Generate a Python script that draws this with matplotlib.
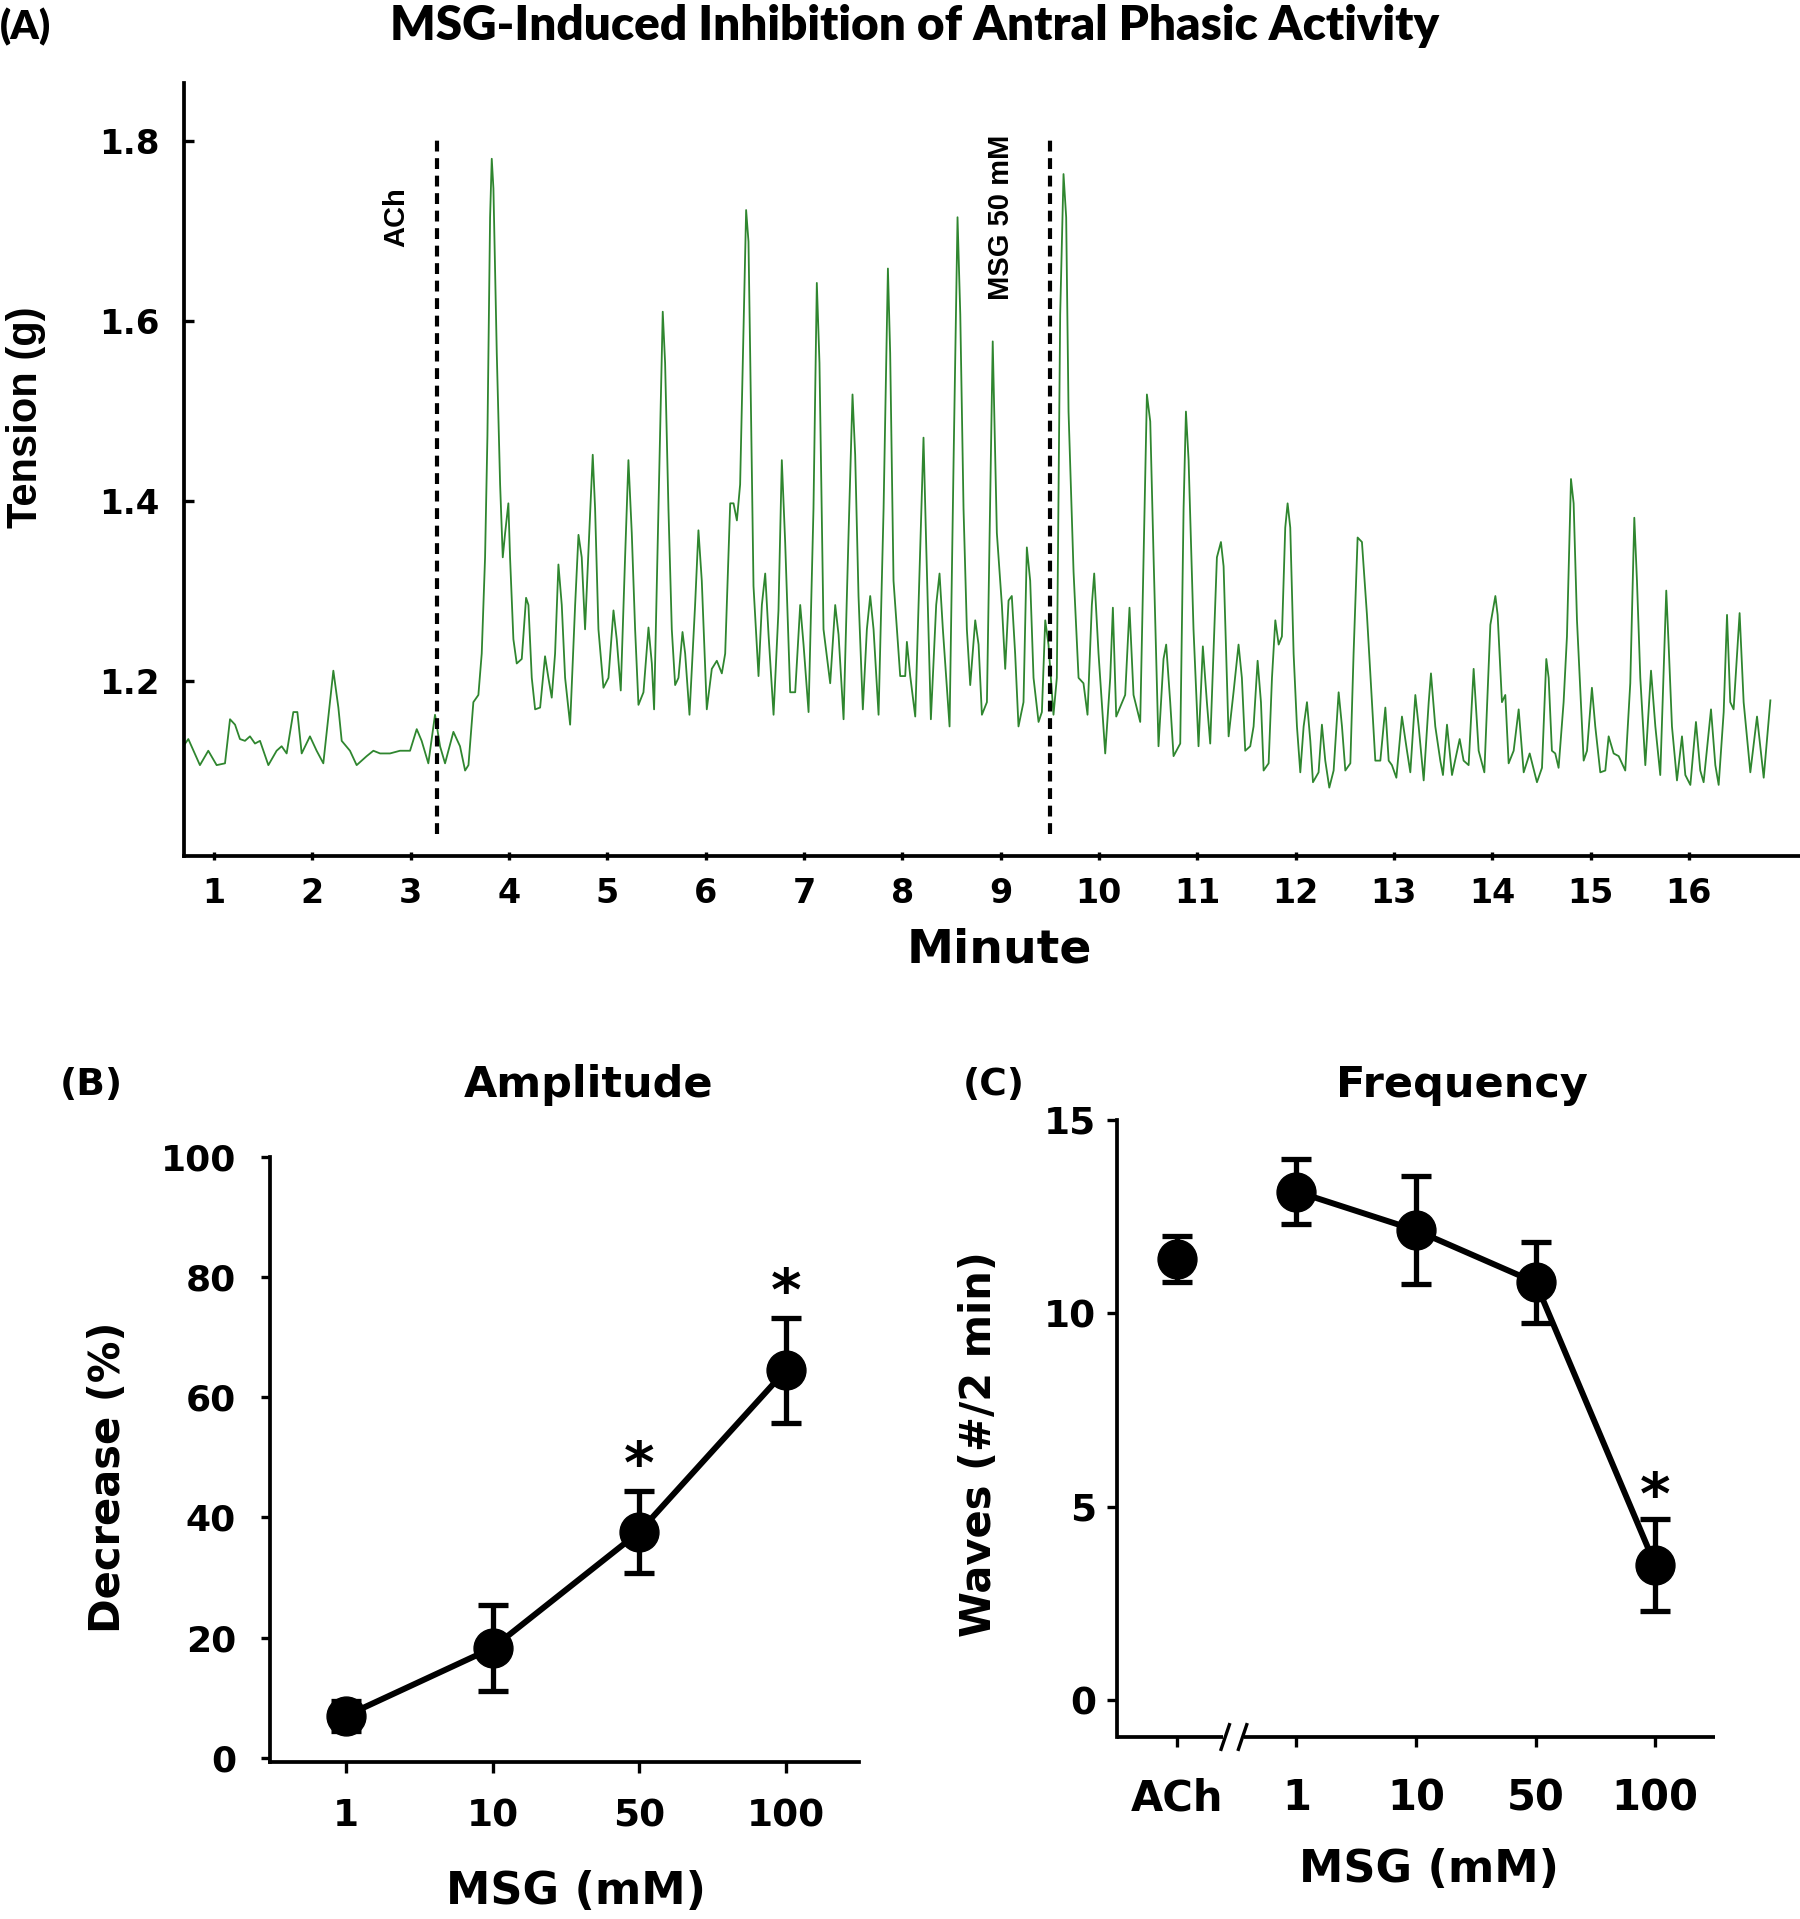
import matplotlib
matplotlib.use("Agg")
import matplotlib.pyplot as plt
import matplotlib.transforms as mtransforms
from matplotlib.lines import Line2D

plt.rcParams['font.family'] = ['DejaVu Sans']
plt.rcParams['font.weight'] = 'bold'

# ---------------- Panel A : tension trace (minute, g) ----------------
trace_minute = [
    0.688, 0.739, 0.857, 0.942, 1.027, 1.112, 1.163, 1.214, 1.264, 1.315, 1.366, 1.417, 1.468,
    1.553, 1.637, 1.688, 1.739, 1.807, 1.848, 1.892, 1.976, 2.044, 2.112, 2.214, 2.265, 2.299,
    2.383, 2.451, 2.553, 2.621, 2.689, 2.790, 2.892, 2.994, 3.062, 3.112, 3.180, 3.248, 3.299,
    3.350, 3.435, 3.502,
    3.554, 3.588, 3.638, 3.689, 3.723, 3.757, 3.781, 3.808, 3.825, 3.842, 3.876, 3.910, 3.937,
    3.961, 3.994, 4.011, 4.045, 4.079, 4.130, 4.174, 4.198, 4.232, 4.266, 4.317, 4.367, 4.401,
    4.435, 4.469, 4.503, 4.537, 4.571, 4.622, 4.673, 4.707, 4.740, 4.774, 4.808, 4.852, 4.876,
    4.910, 4.961, 5.012, 5.063, 5.096, 5.137, 5.181, 5.215, 5.249, 5.283, 5.317, 5.368, 5.419,
    5.453, 5.476, 5.520, 5.564, 5.588, 5.622, 5.656, 5.690, 5.724, 5.765, 5.792, 5.836, 5.893,
    5.927, 5.961, 6.012, 6.063, 6.114, 6.165, 6.199,
    6.250, 6.284, 6.318, 6.351, 6.385, 6.412, 6.436, 6.453, 6.487, 6.538, 6.572, 6.606, 6.640,
    6.691, 6.741, 6.775, 6.809, 6.860, 6.911, 6.962, 6.996, 7.047, 7.097, 7.131, 7.158, 7.199,
    7.267, 7.318, 7.352, 7.403, 7.454, 7.494, 7.521, 7.555, 7.599, 7.640, 7.674, 7.708, 7.759,
    7.810, 7.854, 7.877, 7.911, 7.979, 8.030, 8.047, 8.081, 8.132, 8.183, 8.216, 8.244, 8.291,
    8.345, 8.379, 8.413, 8.481, 8.522, 8.562, 8.590, 8.623, 8.657, 8.691, 8.742, 8.776, 8.810,
    8.861, 8.920,
    8.962, 9.013, 9.047, 9.081, 9.114, 9.148, 9.182, 9.233, 9.267, 9.301, 9.335, 9.386, 9.420,
    9.454, 9.487, 9.538, 9.572, 9.606, 9.640, 9.667, 9.691, 9.742, 9.793, 9.843, 9.884, 9.928,
    9.952, 9.996, 10.064, 10.115, 10.142, 10.176, 10.267, 10.311, 10.352, 10.420, 10.454,
    10.488, 10.522, 10.556, 10.606, 10.657, 10.684, 10.725, 10.759, 10.827, 10.861, 10.885,
    10.912, 10.962, 11.013, 11.057, 11.098, 11.132, 11.200, 11.241, 11.268, 11.319, 11.369,
    11.420, 11.454, 11.488, 11.539, 11.573, 11.614, 11.648, 11.675,
    11.726, 11.760, 11.794, 11.828, 11.861, 11.895, 11.919, 11.946, 11.980, 12.014, 12.048,
    12.082, 12.116, 12.150, 12.177, 12.234, 12.268, 12.302, 12.343, 12.387, 12.438, 12.472,
    12.506, 12.557, 12.590, 12.631, 12.675, 12.726, 12.777, 12.811, 12.862, 12.913, 12.947,
    12.980, 13.025, 13.082, 13.133, 13.167, 13.218, 13.252, 13.303, 13.354, 13.377, 13.421,
    13.472, 13.499, 13.540, 13.591, 13.669, 13.709, 13.760, 13.811, 13.862, 13.920, 13.981,
    14.032, 14.055, 14.099, 14.133, 14.167, 14.218, 14.269, 14.320, 14.381,
    14.455, 14.506, 14.550, 14.574, 14.607, 14.641, 14.675, 14.726, 14.760, 14.801, 14.828,
    14.862, 14.930, 14.964, 15.014, 15.048, 15.099, 15.150, 15.184, 15.235, 15.286, 15.353,
    15.404, 15.445, 15.472, 15.506, 15.557, 15.615, 15.659, 15.709, 15.770, 15.794, 15.828,
    15.879, 15.930, 15.964, 16.015, 16.072, 16.116, 16.150, 16.225, 16.269, 16.303, 16.354,
    16.388, 16.421, 16.455, 16.516, 16.557, 16.625, 16.693, 16.761, 16.829,
]
trace_tension = [
    1.127, 1.135, 1.106, 1.122, 1.106, 1.108, 1.157, 1.151, 1.135, 1.133, 1.138, 1.130, 1.133,
    1.106, 1.122, 1.127, 1.119, 1.165, 1.165, 1.119, 1.138, 1.122, 1.108, 1.211, 1.170, 1.133,
    1.122, 1.106, 1.116, 1.122, 1.119, 1.119, 1.122, 1.122, 1.146, 1.133, 1.108, 1.162, 1.127,
    1.108, 1.143, 1.127,
    1.100, 1.106, 1.176, 1.184, 1.230, 1.337, 1.472, 1.715, 1.780, 1.747, 1.564, 1.418, 1.337,
    1.364, 1.397, 1.337, 1.246, 1.219, 1.224, 1.292, 1.284, 1.203, 1.168, 1.170, 1.227, 1.203,
    1.181, 1.230, 1.329, 1.284, 1.203, 1.151, 1.284, 1.362, 1.337, 1.257, 1.343, 1.451, 1.391,
    1.257, 1.192, 1.203, 1.278, 1.246, 1.189, 1.337, 1.445, 1.364, 1.257, 1.173, 1.187, 1.259,
    1.219, 1.168, 1.391, 1.610, 1.553, 1.391, 1.257, 1.195, 1.203, 1.254, 1.230, 1.162, 1.284,
    1.367, 1.311, 1.168, 1.213, 1.222, 1.208, 1.230,
    1.397, 1.397, 1.378, 1.418, 1.591, 1.723, 1.688, 1.564, 1.305, 1.205, 1.284, 1.319, 1.251,
    1.162, 1.278, 1.445, 1.354, 1.187, 1.187, 1.284, 1.240, 1.165, 1.391, 1.642, 1.553, 1.257,
    1.197, 1.284, 1.251, 1.157, 1.364, 1.518, 1.451, 1.294, 1.168, 1.257, 1.294, 1.257, 1.162,
    1.391, 1.658, 1.564, 1.311, 1.205, 1.205, 1.243, 1.205, 1.160, 1.348, 1.470, 1.348, 1.157,
    1.284, 1.319, 1.257, 1.149, 1.445, 1.715, 1.607, 1.391, 1.257, 1.195, 1.267, 1.240, 1.162,
    1.176, 1.577,
    1.364, 1.284, 1.213, 1.289, 1.294, 1.230, 1.149, 1.176, 1.348, 1.311, 1.203, 1.154, 1.165,
    1.267, 1.240, 1.162, 1.203, 1.607, 1.763, 1.715, 1.499, 1.321, 1.203, 1.197, 1.162, 1.284,
    1.319, 1.230, 1.119, 1.203, 1.281, 1.160, 1.184, 1.281, 1.184, 1.154, 1.337,
    1.518, 1.488, 1.337, 1.127, 1.224, 1.240, 1.176, 1.116, 1.130, 1.391, 1.499,
    1.445, 1.257, 1.127, 1.238, 1.176, 1.130, 1.337, 1.354, 1.327, 1.138, 1.187,
    1.240, 1.203, 1.122, 1.127, 1.149, 1.222, 1.176, 1.100,
    1.108, 1.203, 1.267, 1.240, 1.249, 1.370, 1.397, 1.370, 1.230, 1.149, 1.098,
    1.149, 1.176, 1.133, 1.087, 1.098, 1.151, 1.111, 1.081, 1.100, 1.187, 1.149,
    1.100, 1.108, 1.230, 1.359, 1.354, 1.273, 1.176, 1.111, 1.111, 1.170, 1.111,
    1.106, 1.092, 1.160, 1.122, 1.098, 1.184, 1.149, 1.089, 1.176, 1.208, 1.149,
    1.111, 1.095, 1.151, 1.095, 1.135, 1.111, 1.106, 1.213, 1.122, 1.098, 1.262,
    1.294, 1.273, 1.176, 1.184, 1.108, 1.122, 1.168, 1.098, 1.119,
    1.087, 1.103, 1.224, 1.203, 1.122, 1.119, 1.103, 1.176, 1.249, 1.424, 1.397,
    1.267, 1.111, 1.122, 1.192, 1.149, 1.098, 1.100, 1.138, 1.119, 1.116, 1.100,
    1.197, 1.381, 1.311, 1.203, 1.106, 1.211, 1.149, 1.095, 1.300, 1.240, 1.149,
    1.089, 1.138, 1.095, 1.084, 1.154, 1.100, 1.087, 1.168, 1.106, 1.084, 1.165,
    1.273, 1.176, 1.168, 1.275, 1.176, 1.098, 1.160, 1.092, 1.178,
]
a_xticks = list(range(1, 17))
a_yticks = [1.2, 1.4, 1.6, 1.8]
a_yticklabels = ['1.2', '1.4', '1.6', '1.8']
ach_time = 3.265
msg_time = 9.504
event_labels = ['ACh', 'MSG 50 mM']
event_label_right = [2.994, 9.149]

# ---------------- Panel B : amplitude ----------------
b_cats = ['1', '10', '50', '100']
b_mean = [7.0, 18.3, 37.6, 64.5]
b_err = [2.5, 7.2, 6.8, 8.7]
b_star = [False, False, True, True]
b_yticks = [0, 20, 40, 60, 80, 100]

# ---------------- Panel C : frequency ----------------
c_cats = ['ACh', '1', '10', '50', '100']
c_mean = [11.4, 13.15, 12.15, 10.8, 3.5]
c_err = [0.6, 0.85, 1.4, 1.05, 1.18]
c_star = [False, False, False, False, True]
c_yticks = [0, 5, 10, 15]

W, H = 1800, 1919
fig = plt.figure(figsize=(W / 100, H / 100), dpi=100)

def fx(px):
    return px / W

def fy(py):
    return 1 - py / H

LW_DATA = 4.3
MS = 28
EB = dict(elinewidth=3.8, capsize=10.5, capthick=3.8)

# ---------- Panel A ----------
axA = fig.add_axes([fx(183.6), fy(856), fx(1799) - fx(183.6), fy(83.2) - fy(856)])
axA.plot(trace_minute, trace_tension, color='#2f862f', lw=1.3)
axA.set_xlim(0.691, 17.12)
axA.set_ylim(1.005, 1.864)
for t in (ach_time, msg_time):
    axA.plot([t, t], [1.029, 1.807], color='black', lw=3.0, ls=(0, (2.6, 1.6)))
for lab, xr in zip(event_labels, event_label_right):
    axA.text(xr, 1.715, lab, rotation=90, ha='right', va='center',
             fontsize=21, fontweight='bold', family='Liberation Sans')
for s in ('top', 'right'):
    axA.spines[s].set_visible(False)
for s in ('left', 'bottom'):
    axA.spines[s].set_linewidth(2.7)
axA.set_xticks(a_xticks)
axA.set_xticklabels([str(v) for v in a_xticks])
axA.set_yticks(a_yticks)
axA.set_yticklabels(a_yticklabels)
axA.tick_params(axis='y', direction='in', length=7, width=2.4, pad=17, labelsize=24.5)
axA.tick_params(axis='x', direction='inout', length=6, width=2.4, pad=12, labelsize=24)
fig.text(fx(999), fy(950), 'Minute', ha='center', va='center', fontsize=34)
fig.text(fx(26), fy(417), 'Tension (g)', ha='center', va='center', rotation=90,
         fontsize=30, family='Liberation Sans', fontweight='bold')
fig.text(fx(915), fy(26), 'MSG-Induced Inhibition of Antral Phasic Activity',
         ha='center', va='center', fontsize=34.3, family='Lato', fontweight='heavy')
fig.text(0.0, fy(27), '(A)', ha='left', va='center', fontsize=29,
         family='Lato', fontweight='heavy')

# ---------- Panel B ----------
axB = fig.add_axes([fx(270), fy(1762), fx(859) - fx(270), fy(1157) - fy(1762)])
bx = list(range(len(b_cats)))
axB.errorbar(bx, b_mean, yerr=b_err, color='black', lw=LW_DATA, marker='o', ms=MS,
             zorder=3, **EB)
for xi, m, e, st in zip(bx, b_mean, b_err, b_star):
    if st:
        axB.annotate('*', (xi, m + e), xytext=(0, -3), textcoords='offset points',
                     ha='center', va='bottom', fontsize=42)
axB.set_xlim(-0.52, 3.5)
axB.set_ylim(-0.7, 100)
axB.set_xticks(bx)
axB.set_xticklabels(b_cats)
axB.set_yticks(b_yticks)
for s in ('top', 'right'):
    axB.spines[s].set_visible(False)
for s in ('left', 'bottom'):
    axB.spines[s].set_linewidth(2.7)
axB.tick_params(axis='y', direction='out', length=6.5, width=2.4, pad=18, labelsize=26)
axB.tick_params(axis='x', direction='out', length=8, width=2.4, pad=18, labelsize=27)
fig.text(fx(576), fy(1891), 'MSG (mM)', ha='center', va='center', fontsize=32)
fig.text(fx(108), fy(1477), 'Decrease (%)', ha='center', va='center', rotation=90, fontsize=30)
fig.text(fx(589), fy(1085), 'Amplitude', ha='center', va='center', fontsize=31)
fig.text(fx(91), fy(1085), '(B)', ha='center', va='center', fontsize=27)

# ---------- Panel C ----------
axC = fig.add_axes([fx(1117), fy(1737), fx(1715) - fx(1117), fy(1120) - fy(1737)])
cx = list(range(len(c_cats)))
axC.errorbar(cx[:1], c_mean[:1], yerr=c_err[:1], color='black', ls='none', marker='o',
             ms=MS, zorder=3, **EB)
axC.errorbar(cx[1:], c_mean[1:], yerr=c_err[1:], color='black', lw=LW_DATA, marker='o',
             ms=MS, zorder=3, **EB)
for xi, m, e, st in zip(cx, c_mean, c_err, c_star):
    if st:
        axC.annotate('*', (xi, m + e), xytext=(0, -5), textcoords='offset points',
                     ha='center', va='bottom', fontsize=42)
axC.set_xlim(-0.5, 4.5)
axC.set_ylim(-0.95, 15)
axC.set_xticks(cx)
axC.set_xticklabels(c_cats)
axC.set_yticks(c_yticks)
for s in ('top', 'right', 'bottom'):
    axC.spines[s].set_visible(False)
axC.spines['left'].set_linewidth(2.7)
tr = mtransforms.blended_transform_factory(axC.transData, axC.transAxes)
axC.add_line(Line2D([-0.5, 0.385], [0, 0], transform=tr, color='black', lw=2.7,
                    solid_capstyle='butt', clip_on=False))
axC.add_line(Line2D([0.565, 4.5], [0, 0], transform=tr, color='black', lw=2.7,
                    solid_capstyle='butt', clip_on=False))
for x0 in (0.37, 0.515):
    axC.add_line(Line2D([x0, x0 + 0.07], [-0.02, 0.02], transform=tr, color='black',
                        lw=2.4, clip_on=False))
axC.tick_params(axis='y', direction='out', length=7, width=2.4, pad=8, labelsize=27)
axC.tick_params(axis='x', direction='out', length=7, width=2.4, pad=22, labelsize=30)
fig.text(fx(1429), fy(1869), 'MSG (mM)', ha='center', va='center', fontsize=32)
fig.text(fx(979), fy(1444), 'Waves (#/2 min)', ha='center', va='center', rotation=90, fontsize=30)
fig.text(fx(1462), fy(1085), 'Frequency', ha='center', va='center', fontsize=31)
fig.text(fx(994), fy(1085), '(C)', ha='center', va='center', fontsize=27)

fig.savefig('out.png', dpi=100)
